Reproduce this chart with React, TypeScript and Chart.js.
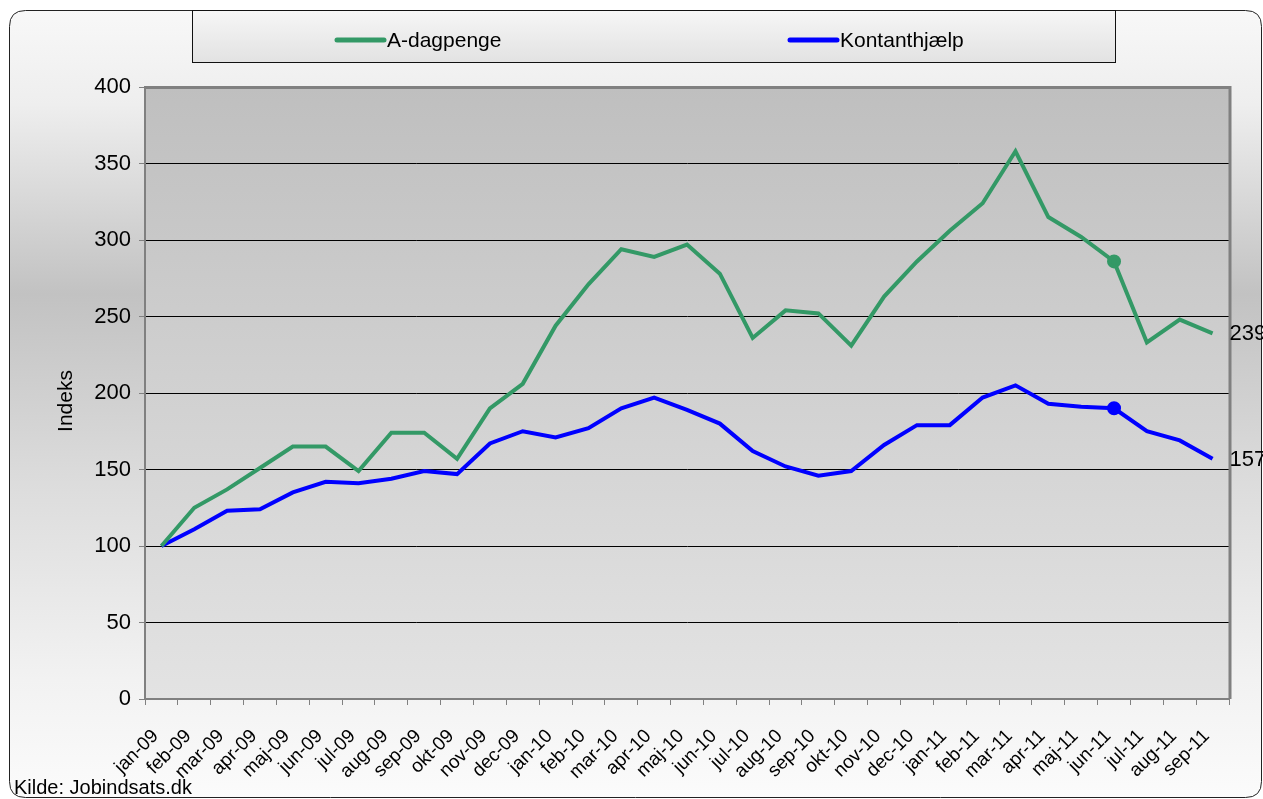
import React, { useEffect, useRef } from "react";
import { Chart, registerables } from "chart.js";

Chart.register(...registerables);

const categories = [
  "jan-09", "feb-09", "mar-09", "apr-09", "maj-09", "jun-09", "jul-09", "aug-09", "sep-09", "okt-09", "nov-09", "dec-09",
  "jan-10", "feb-10", "mar-10", "apr-10", "maj-10", "jun-10", "jul-10", "aug-10", "sep-10", "okt-10", "nov-10", "dec-10",
  "jan-11", "feb-11", "mar-11", "apr-11", "maj-11", "jun-11", "jul-11", "aug-11", "sep-11",
];

const aDagpenge = [
  100, 125, 137, 151, 165, 165, 149, 174, 174, 157, 190, 206,
  244, 271, 294, 289, 297, 278, 236, 254, 252, 231, 263, 286,
  306, 324, 358, 315, 302, 286, 233, 248, 239,
];

const kontanthjaelp = [
  100, 111, 123, 124, 135, 142, 141, 144, 149, 147, 167, 175,
  171, 177, 190, 197, 189, 180, 162, 152, 146, 149, 166, 179,
  179, 197, 205, 193, 191, 190, 175, 169, 157,
];

const seriesNames = ["A-dagpenge", "Kontanthjælp"];
const seriesColors = ["#339966", "#0000ff"];
const yTicks = [0, 50, 100, 150, 200, 250, 300, 350, 400];
const markedIndex = 29;
const sourceText = "Kilde: Jobindsats.dk";
const yTitle = "Indeks";

const FONT = "'Liberation Sans', Arial, sans-serif";

function roundRectPath(ctx: CanvasRenderingContext2D, x: number, y: number, w: number, h: number, r: number) {
  ctx.beginPath();
  ctx.moveTo(x + r, y);
  ctx.lineTo(x + w - r, y);
  ctx.quadraticCurveTo(x + w, y, x + w, y + r);
  ctx.lineTo(x + w, y + h - r);
  ctx.quadraticCurveTo(x + w, y + h, x + w - r, y + h);
  ctx.lineTo(x + r, y + h);
  ctx.quadraticCurveTo(x, y + h, x, y + h - r);
  ctx.lineTo(x, y + r);
  ctx.quadraticCurveTo(x, y, x + r, y);
  ctx.closePath();
}

const decorPlugin = {
  id: "decor",
  beforeDraw(chart: any) {
    const ctx: CanvasRenderingContext2D = chart.ctx;
    const { width, height } = chart;
    ctx.save();
    ctx.fillStyle = "#ffffff";
    ctx.fillRect(0, 0, width, height);

    // outer frame
    const g = ctx.createLinearGradient(0, 10, 0, 798);
    g.addColorStop(0, "#f8f8f8");
    g.addColorStop(0.12, "#eeeeee");
    g.addColorStop(0.36, "#c2c2c2");
    g.addColorStop(0.6, "#dcdcdc");
    g.addColorStop(0.85, "#f2f2f2");
    g.addColorStop(1, "#fbfbfb");
    roundRectPath(ctx, 9.5, 10.5, 1252, 787, 16);
    ctx.fillStyle = g;
    ctx.fill();
    ctx.strokeStyle = "#222222";
    ctx.lineWidth = 1;
    ctx.stroke();

    // plot area
    const ca = chart.chartArea;
    const pg = ctx.createLinearGradient(0, ca.top, 0, ca.bottom);
    pg.addColorStop(0, "#bfbfbf");
    pg.addColorStop(1, "#e3e3e3");
    ctx.fillStyle = pg;
    ctx.fillRect(ca.left, ca.top, ca.right - ca.left, ca.bottom - ca.top);

    // legend box
    const lg = ctx.createLinearGradient(0, 10, 0, 63);
    lg.addColorStop(0, "#f6f6f6");
    lg.addColorStop(1, "#e2e2e2");
    ctx.fillStyle = lg;
    ctx.fillRect(192, 10, 924, 53);
    ctx.strokeStyle = "#111111";
    ctx.lineWidth = 1;
    ctx.strokeRect(192.5, 10.5, 923, 52);

    const legendX = [337, 790];
    ctx.font = `21px ${FONT}`;
    ctx.textBaseline = "middle";
    ctx.textAlign = "left";
    seriesNames.forEach((name, i) => {
      ctx.strokeStyle = seriesColors[i];
      ctx.lineWidth = 5;
      ctx.lineCap = "round";
      ctx.beginPath();
      ctx.moveTo(legendX[i], 40);
      ctx.lineTo(legendX[i] + 47, 40);
      ctx.stroke();
      ctx.fillStyle = "#000000";
      ctx.fillText(name, legendX[i] + 50, 41);
    });

    // y axis title
    ctx.save();
    ctx.translate(66, 401);
    ctx.rotate(-Math.PI / 2);
    ctx.font = `21px ${FONT}`;
    ctx.textAlign = "center";
    ctx.textBaseline = "middle";
    ctx.fillStyle = "#000000";
    ctx.fillText(yTitle, 0, 0);
    ctx.restore();

    // source
    ctx.font = `20px ${FONT}`;
    ctx.textBaseline = "alphabetic";
    ctx.textAlign = "left";
    ctx.fillStyle = "#000000";
    ctx.fillText(sourceText, 14, 794);
    ctx.restore();
  },
  beforeDatasetsDraw(chart: any) {
    const ctx: CanvasRenderingContext2D = chart.ctx;
    const ca = chart.chartArea;
    ctx.save();
    ctx.strokeStyle = "#808080";
    ctx.lineWidth = 3;
    ctx.beginPath();
    ctx.moveTo(ca.left, ca.top + 0.5);
    ctx.lineTo(ca.right + 1, ca.top + 0.5);
    ctx.lineTo(ca.right + 1, ca.bottom);
    ctx.stroke();
    ctx.restore();
  },
  afterDatasetsDraw(chart: any) {
    const ctx: CanvasRenderingContext2D = chart.ctx;
    ctx.save();
    ctx.font = `22px ${FONT}`;
    ctx.fillStyle = "#000000";
    ctx.textAlign = "left";
    ctx.textBaseline = "middle";
    chart.data.datasets.forEach((ds: any, i: number) => {
      const meta = chart.getDatasetMeta(i);
      const last = meta.data[meta.data.length - 1];
      const v = ds.data[ds.data.length - 1];
      ctx.fillText(String(v), last.x + 17, last.y + 1);
    });
    ctx.restore();
  },
};

export default function App() {
  const ref = useRef<HTMLCanvasElement | null>(null);
  useEffect(() => {
    if (!ref.current) return;
    const chart = new Chart(ref.current, {
      type: "line",
      data: {
        labels: categories,
        datasets: [
          {
            label: seriesNames[0],
            data: aDagpenge,
            borderColor: seriesColors[0],
            backgroundColor: seriesColors[0],
            borderWidth: 4,
            pointRadius: (c: any) => (c.dataIndex === markedIndex ? 5 : 0),
            pointHoverRadius: 0,
            tension: 0,
          },
          {
            label: seriesNames[1],
            data: kontanthjaelp,
            borderColor: seriesColors[1],
            backgroundColor: seriesColors[1],
            borderWidth: 4,
            pointRadius: (c: any) => (c.dataIndex === markedIndex ? 5 : 0),
            pointHoverRadius: 0,
            tension: 0,
          },
        ],
      },
      options: {
        responsive: false,
        animation: false,
        layout: { padding: { left: 0, top: 87, right: 34, bottom: 0 } },
        plugins: {
          legend: { display: false },
          title: { display: false },
          tooltip: { enabled: false },
        },
        scales: {
          x: {
            offset: true,
            afterFit: (s: any) => {
              s.height = 100;
            },
            grid: {
              offset: true,
              drawOnChartArea: false,
              tickLength: 6,
              color: "#808080",
              lineWidth: 1,
            },
            border: { color: "#808080", width: 2 },
            ticks: {
              autoSkip: false,
              minRotation: 45,
              maxRotation: 45,
              padding: 20,
              labelOffset: -6,
              color: "#000000",
              font: { family: FONT, size: 19 },
            },
          },
          y: {
            min: 0,
            max: 400,
            afterFit: (s: any) => {
              s.width = 145;
            },
            afterBuildTicks: (s: any) => {
              s.ticks = yTicks.map((v) => ({ value: v }));
            },
            grid: {
              color: "#000000",
              lineWidth: 1,
              tickLength: 6,
              tickColor: "#808080",
            },
            border: { color: "#808080", width: 2 },
            ticks: {
              padding: 8,
              color: "#000000",
              font: { family: FONT, size: 22 },
            },
          },
        },
      },
      plugins: [decorPlugin],
    } as any);
    return () => chart.destroy();
  }, []);
  return (
    <canvas
      ref={ref}
      width={1263}
      height={799}
      style={{ position: "absolute", left: 0, top: 0, width: 1263, height: 799, display: "block" }}
    />
  );
}
